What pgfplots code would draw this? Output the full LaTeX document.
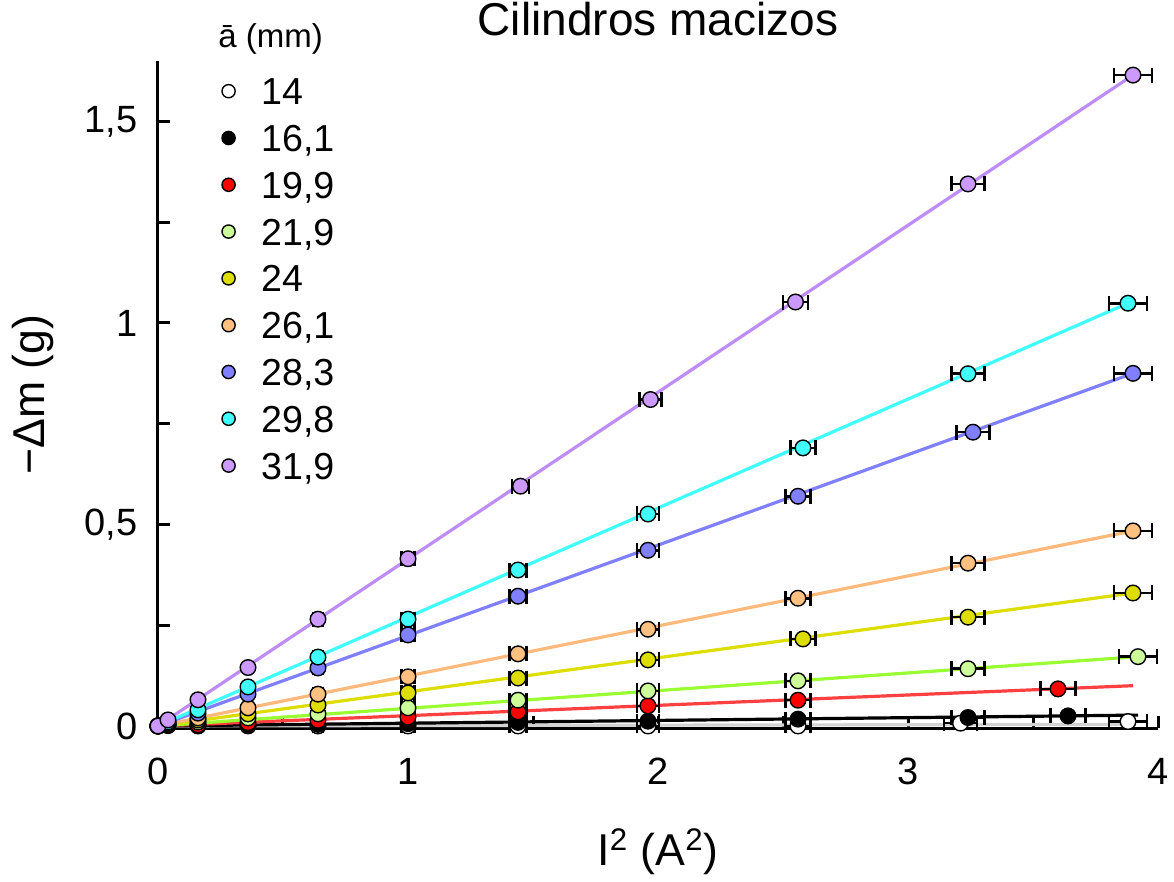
\documentclass[border=0pt]{standalone}
\usepackage{fontspec}
\setmainfont{Liberation Sans}
\usepackage{pgfplots}
\pgfplotsset{compat=1.18}

\definecolor{fA}{RGB}{255,255,255}
\definecolor{fB}{RGB}{0,0,0}
\definecolor{fC}{RGB}{255,0,0}
\definecolor{fD}{RGB}{204,255,153}
\definecolor{fE}{RGB}{221,221,0}
\definecolor{fF}{RGB}{255,192,128}
\definecolor{fG}{RGB}{128,128,255}
\definecolor{fH}{RGB}{64,255,255}
\definecolor{fI}{RGB}{204,153,255}
\definecolor{lC}{RGB}{255,64,64}
\definecolor{lD}{RGB}{153,255,51}
\definecolor{lF}{RGB}{255,185,125}
\definecolor{lI}{RGB}{190,140,245}

\pgfplotsset{
  pt/.style={only marks, mark=*, mark size=3.9pt,
    mark options={solid, fill=#1, draw=black, line width=0.7pt},
    error bars/.cd, x dir=both, x explicit, error mark=|,
    error bar style={line width=1.3pt, black},
    error mark options={line width=1.3pt, black, mark size=3.75pt}},
  fit/.style={forget plot, line width=1.6pt, color=#1},
}

\begin{document}
\begin{tikzpicture}
\begin{axis}[
  scale only axis, width=500pt, height=333.5pt,
  xmin=0, xmax=4, ymin=-0.005, ymax=1.65,
  clip=false,
  axis lines*=left,
  axis line style={line width=1.5pt},
  tick align=inside,
  major tick length=6pt, minor tick length=6pt,
  every tick/.style={line width=1.5pt, black},
  xtick={0,1,2,3,4}, xticklabels={0,1,2,3,4},
  minor xtick={0.5,1.5,2.5,3.5},
  ytick={0,0.5,1,1.5}, yticklabels={0,{0,5},1,{1,5}},
  minor ytick={0.25,0.75,1.25},
  ticklabel style={font=\fontsize{19}{19}\selectfont, inner sep=0pt},
  xticklabel style={anchor=north, yshift=-15pt},
  yticklabel style={anchor=east, xshift=-10pt},
  title={Cilindros macizos},
  title style={at={(axis description cs:0.5,1)}, anchor=base, yshift=6.5pt,
    inner sep=0pt, font=\fontsize{23}{23}\selectfont},
  xlabel={I\textsuperscript{2} (A\textsuperscript{2})},
  ylabel={−Δm (g)},
  every axis x label/.style={at={(axis description cs:0.5,-0.186)}, anchor=center,
    font=\fontsize{22.3}{22.3}\selectfont},
  every axis y label/.style={at={(axis description cs:-0.125,0.5)}, rotate=90,
    anchor=center, font=\fontsize{22.3}{22.3}\selectfont},
  legend image code/.code={\draw[#1, mark size=3.3pt] plot coordinates {(0pt,0pt)};},
  legend cell align=left,
  legend style={draw=none, fill=none, at={(axis description cs:0.064,0.975)},
    anchor=north west, inner sep=0pt, outer sep=0pt,
    font=\fontsize{18.8}{18.8}\selectfont, row sep=9.9pt, column sep=13pt,
    nodes={inner sep=0pt, text height=13.5pt, text depth=0pt}},
]
% ajustes lineales
\addplot[fit=gray!35] coordinates {(0,0) (3.9,0.004)};
\addplot[fit=black] coordinates {(0,0) (3.92,0.027)};
\addplot[fit=lC] coordinates {(0,0) (3.9,0.1)};
\addplot[fit=lD] coordinates {(0,0) (3.92,0.172)};
\addplot[fit=fE] coordinates {(0,0) (3.9,0.33)};
\addplot[fit=lF] coordinates {(0,0) (3.9,0.484)};
\addplot[fit=fG] coordinates {(0,0) (3.9,0.875)};
\addplot[fit=fH] coordinates {(0,0) (3.88,1.049)};
\addplot[fit=lI] coordinates {(0,0) (3.9,1.615)};

% datos
\addplot[pt=fA] table[x=x, y=y, x error=ex] {
x y ex
0 0 0
0.16 0 0.008
0.36 0 0.012
0.64 0 0.02
1.0 0 0.026
1.44 0 0.034
1.96 0 0.044
2.56 0 0.05
3.21 0.007 0.066
3.88 0.011 0.076
};
\addlegendentry{14}
\addplot[pt=fB] table[x=x, y=y, x error=ex] {
x y ex
0 0 0
0.16 0.001 0.008
0.36 0.002 0.012
0.64 0.004 0.02
1.0 0.006 0.026
1.44 0.009 0.034
1.96 0.012 0.044
2.56 0.017 0.05
3.24 0.021 0.066
3.64 0.025 0.07
};
\addlegendentry{16,1}
\addplot[pt=fC] table[x=x, y=y, x error=ex] {
x y ex
0 0 0
0.04 0.001 0.004
0.16 0.003 0.008
0.36 0.008 0.012
0.64 0.014 0.02
1.0 0.022 0.026
1.44 0.035 0.034
1.96 0.05 0.044
2.56 0.064 0.05
3.6 0.092 0.07
};
\addlegendentry{19,9}
\addplot[pt=fD] table[x=x, y=y, x error=ex] {
x y ex
0 0 0
0.04 0.002 0.004
0.16 0.01 0.008
0.36 0.02 0.012
0.64 0.03 0.02
1.0 0.045 0.026
1.44 0.064 0.034
1.96 0.087 0.044
2.56 0.112 0.05
3.24 0.142 0.066
3.92 0.172 0.076
};
\addlegendentry{21,9}
\addplot[pt=fE] table[x=x, y=y, x error=ex] {
x y ex
0 0 0
0.04 0.004 0.004
0.16 0.015 0.008
0.36 0.03 0.012
0.64 0.052 0.02
1.0 0.082 0.026
1.44 0.119 0.034
1.96 0.164 0.044
2.58 0.216 0.05
3.24 0.27 0.066
3.9 0.33 0.076
};
\addlegendentry{24}
\addplot[pt=fF] table[x=x, y=y, x error=ex] {
x y ex
0 0 0
0.04 0.005 0.004
0.16 0.02 0.008
0.36 0.045 0.012
0.64 0.079 0.02
1.0 0.122 0.026
1.44 0.179 0.034
1.96 0.24 0.044
2.56 0.317 0.05
3.24 0.404 0.066
3.9 0.484 0.076
};
\addlegendentry{26,1}
\addplot[pt=fG] table[x=x, y=y, x error=ex] {
x y ex
0 0 0
0.04 0.008 0.004
0.16 0.032 0.008
0.36 0.079 0.012
0.64 0.144 0.02
1.0 0.226 0.026
1.44 0.322 0.034
1.96 0.436 0.044
2.56 0.57 0.05
3.26 0.729 0.066
3.9 0.875 0.076
};
\addlegendentry{28,3}
\addplot[pt=fH] table[x=x, y=y, x error=ex] {
x y ex
0 0 0
0.04 0.01 0.004
0.16 0.04 0.008
0.36 0.097 0.012
0.64 0.171 0.02
1.0 0.265 0.026
1.44 0.387 0.034
1.96 0.526 0.044
2.58 0.69 0.05
3.24 0.874 0.066
3.88 1.049 0.076
};
\addlegendentry{29,8}
\addplot[pt=fI] table[x=x, y=y, x error=ex] {
x y ex
0 0 0
0.04 0.015 0.004
0.16 0.065 0.008
0.36 0.145 0.012
0.64 0.265 0.02
1.0 0.415 0.026
1.45 0.595 0.034
1.97 0.81 0.044
2.55 1.052 0.05
3.24 1.345 0.066
3.9 1.615 0.076
};
\addlegendentry{31,9}

\node[anchor=base west, inner sep=0pt, font=\fontsize{16.5}{16.5}\selectfont]
  at (axis description cs:0.06,1.0195) {ā (mm)};
\end{axis}
\path ([xshift=-79pt,yshift=-72.5pt]current axis.south west)
  rectangle ([xshift=8pt,yshift=30.5pt]current axis.north east);
\end{tikzpicture}
\end{document}
